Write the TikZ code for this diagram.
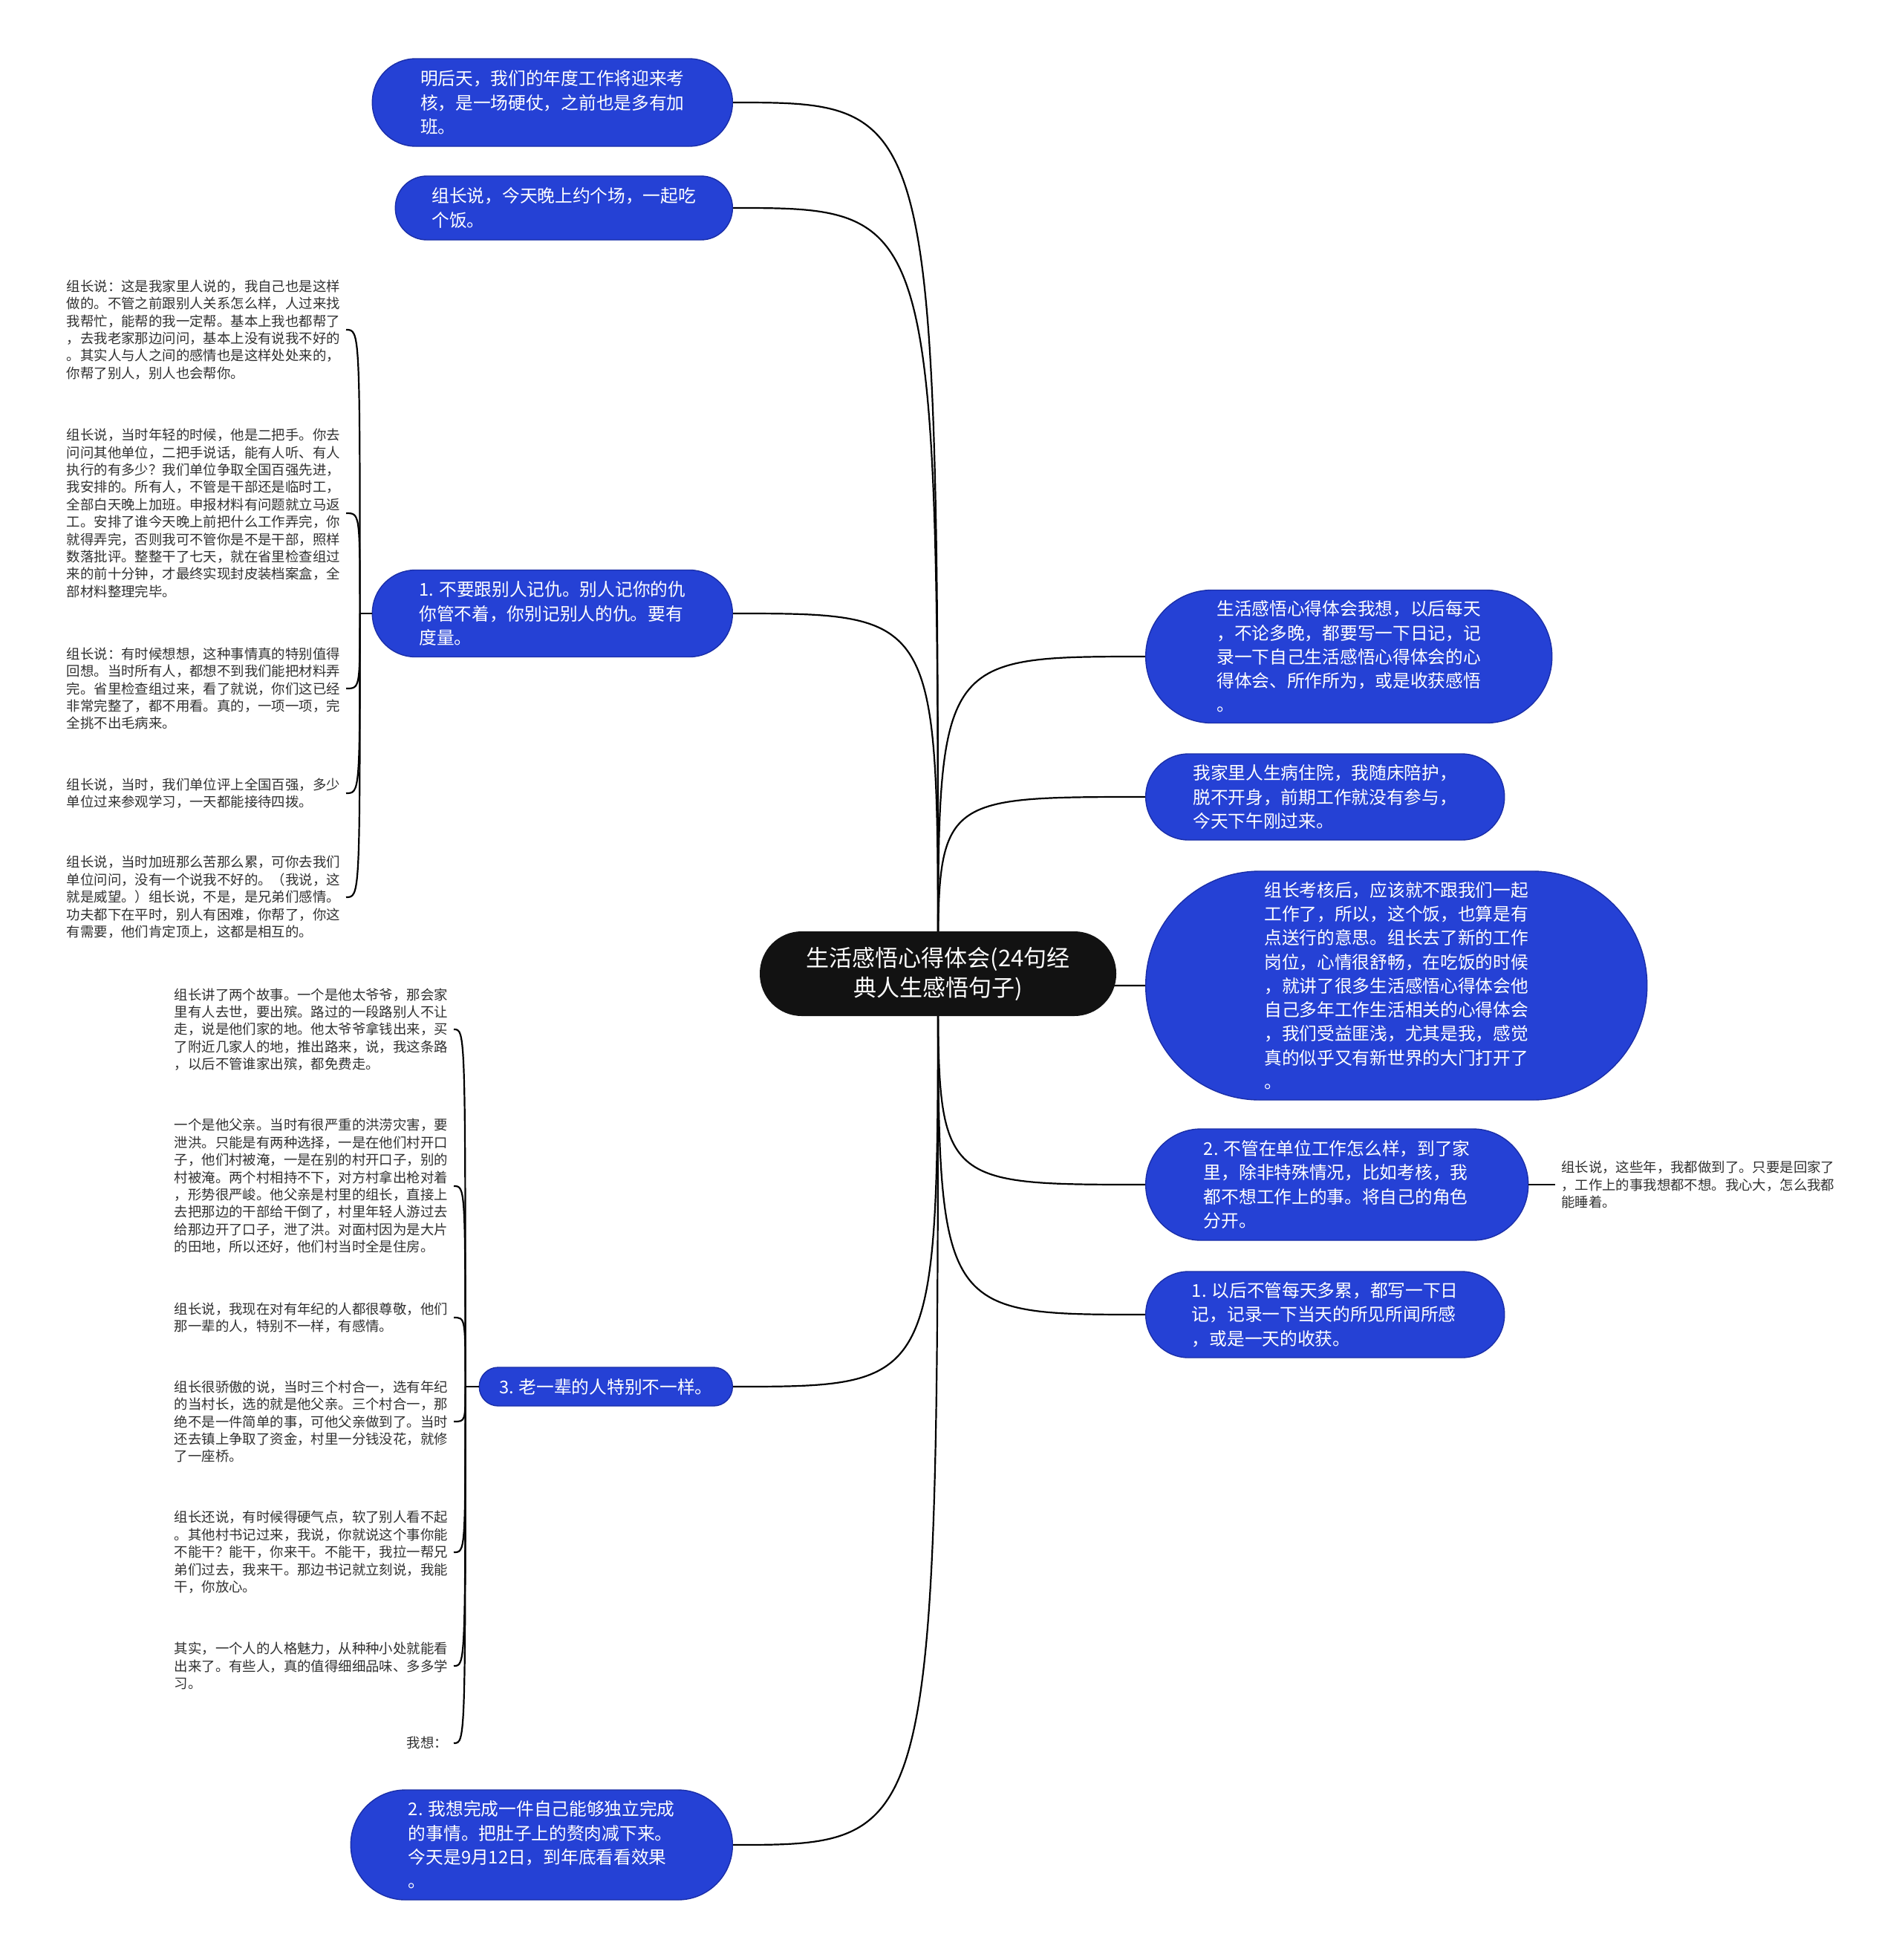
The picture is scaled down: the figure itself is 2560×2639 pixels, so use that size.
\documentclass[tikz,border=0pt]{standalone}
\usepackage{fontspec}
\setmainfont{Noto Sans CJK SC}
\usetikzlibrary{backgrounds}
\definecolor{nodeblue}{RGB}{37,65,213}
\definecolor{edgeblue}{RGB}{26,46,168}
\definecolor{leafgray}{RGB}{48,48,48}

\begin{document}
\begin{tikzpicture}[x=1pt,y=-1pt,
  link/.style={line width=2.2pt,black},
  topic/.style 2 args={draw=edgeblue,line width=1.4pt,fill=nodeblue,text=white,align=left,inner sep=0pt,
    font=\fontsize{23.7}{32.3}\selectfont,minimum width=#1,minimum height=#2,rounded corners=#2/2-0.5},
  leaf/.style={text=leafgray,align=left,inner xsep=8pt,inner ysep=2pt,font=\fontsize{18.4}{23.4}\selectfont}]
\useasboundingbox (0,0) rectangle (2560,2639);

\node[fill=black!93,text=white,align=center,inner sep=0pt,minimum width=480,minimum height=114,
  rounded corners=56.5,font=\fontsize{31}{40}\selectfont] (root) at (1263,1311)
  {生活感悟心得体会(24句经\\典人生感悟句子)};

\node[topic={485}{118},anchor=east] (a1) at (987,138) {明后天，我们的年度工作将迎来考\\核，是一场硬仗，之前也是多有加\\班。};
\node[topic={454}{86},anchor=east] (a2) at (987,280) {组长说，今天晚上约个场，一起吃\\个饭。};
\node[topic={485}{117},anchor=east] (a3) at (987,826) {1. 不要跟别人记仇。别人记你的仇\\你管不着，你别记别人的仇。要有\\度量。};
\node[topic={341}{52},anchor=east] (a4) at (987,1867) {3. 老一辈的人特别不一样。};
\node[topic={514}{148},anchor=east] (a5) at (987,2484) {2. 我想完成一件自己能够独立完成\\的事情。把肚子上的赘肉减下来。\\今天是9月12日，到年底看看效果\\。};

\node[topic={547}{179},anchor=west] (b1) at (1542,884) {生活感悟心得体会我想，以后每天\\，不论多晚，都要写一下日记，记\\录一下自己生活感悟心得体会的心\\得体会、所作所为，或是收获感悟\\。};
\node[topic={483}{116},anchor=west] (b2) at (1542,1073) {我家里人生病住院，我随床陪护，\\脱不开身，前期工作就没有参与，\\今天下午刚过来。};
\node[topic={675}{308},anchor=west] (b3) at (1542,1327) {组长考核后，应该就不跟我们一起\\工作了，所以，这个饭，也算是有\\点送行的意思。组长去了新的工作\\岗位，心情很舒畅，在吃饭的时候\\，就讲了很多生活感悟心得体会他\\自己多年工作生活相关的心得体会\\，我们受益匪浅，尤其是我，感觉\\真的似乎又有新世界的大门打开了\\。};
\node[topic={515}{150},anchor=west] (b4) at (1542,1595) {2. 不管在单位工作怎么样，到了家\\里，除非特殊情况，比如考核，我\\都不想工作上的事。将自己的角色\\分开。};
\node[topic={483}{116},anchor=west] (b5) at (1542,1770) {1. 以后不管每天多累，都写一下日\\记，记录一下当天的所见所闻所感\\，或是一天的收获。};

\node[leaf,anchor=east] (l1) at (466,444) {组长说：这是我家里人说的，我自己也是这样\\做的。不管之前跟别人关系怎么样，人过来找\\我帮忙，能帮的我一定帮。基本上我也都帮了\\，去我老家那边问问，基本上没有说我不好的\\。其实人与人之间的感情也是这样处处来的，\\你帮了别人，别人也会帮你。};
\node[leaf,anchor=east] (l2) at (466,691) {组长说，当时年轻的时候，他是二把手。你去\\问问其他单位，二把手说话，能有人听、有人\\执行的有多少？我们单位争取全国百强先进，\\我安排的。所有人，不管是干部还是临时工，\\全部白天晚上加班。申报材料有问题就立马返\\工。安排了谁今天晚上前把什么工作弄完，你\\就得弄完，否则我可不管你是不是干部，照样\\数落批评。整整干了七天，就在省里检查组过\\来的前十分钟，才最终实现封皮装档案盒，全\\部材料整理完毕。};
\node[leaf,anchor=east] (l3) at (466,927) {组长说：有时候想想，这种事情真的特别值得\\回想。当时所有人，都想不到我们能把材料弄\\完。省里检查组过来，看了就说，你们这已经\\非常完整了，都不用看。真的，一项一项，完\\全挑不出毛病来。};
\node[leaf,anchor=east] (l4) at (466,1068) {组长说，当时，我们单位评上全国百强，多少\\单位过来参观学习，一天都能接待四拨。};
\node[leaf,anchor=east] (l5) at (466,1208) {组长说，当时加班那么苦那么累，可你去我们\\单位问问，没有一个说我不好的。（我说，这\\就是威望。）组长说，不是，是兄弟们感情。\\功夫都下在平时，别人有困难，你帮了，你这\\有需要，他们肯定顶上，这都是相互的。};

\node[leaf,anchor=east] (m1) at (611,1386) {组长讲了两个故事。一个是他太爷爷，那会家\\里有人去世，要出殡。路过的一段路别人不让\\走，说是他们家的地。他太爷爷拿钱出来，买\\了附近几家人的地，推出路来，说，我这条路\\，以后不管谁家出殡，都免费走。};
\node[leaf,anchor=east] (m2) at (611,1597) {一个是他父亲。当时有很严重的洪涝灾害，要\\泄洪。只能是有两种选择，一是在他们村开口\\子，他们村被淹，一是在别的村开口子，别的\\村被淹。两个村相持不下，对方村拿出枪对着\\，形势很严峻。他父亲是村里的组长，直接上\\去把那边的干部给干倒了，村里年轻人游过去\\给那边开了口子，泄了洪。对面村因为是大片\\的田地，所以还好，他们村当时全是住房。};
\node[leaf,anchor=east] (m3) at (611,1774) {组长说，我现在对有年纪的人都很尊敬，他们\\那一辈的人，特别不一样，有感情。};
\node[leaf,anchor=east] (m4) at (611,1914) {组长很骄傲的说，当时三个村合一，选有年纪\\的当村长，选的就是他父亲。三个村合一，那\\绝不是一件简单的事，可他父亲做到了。当时\\还去镇上争取了资金，村里一分钱没花，就修\\了一座桥。};
\node[leaf,anchor=east] (m5) at (611,2090) {组长还说，有时候得硬气点，软了别人看不起\\。其他村书记过来，我说，你就说这个事你能\\不能干？能干，你来干。不能干，我拉一帮兄\\弟们过去，我来干。那边书记就立刻说，我能\\干，你放心。};
\node[leaf,anchor=east] (m6) at (611,2243) {其实，一个人的人格魅力，从种种小处就能看\\出来了。有些人，真的值得细细品味、多多学\\习。};
\node[leaf,anchor=east] (m7) at (611,2347) {我想：};

\node[leaf,anchor=west] (r1) at (2094,1595) {组长说，这些年，我都做到了。只要是回家了\\，工作上的事我想都不想。我心大，怎么我都\\能睡着。};

\begin{scope}[on background layer]
\foreach \n in {a1,a2,a3,a4,a5}
  \draw[link] (root.center) .. controls (root.center |- \n.east) .. (\n.east);
\foreach \n in {b1,b2,b3,b4,b5}
  \draw[link] (root.center) .. controls (root.center |- \n.west) .. (\n.west);
\end{scope}

\draw[link] (a3.west) -- ++(-16,0) coordinate (a3t);
\foreach \n in {l1,l2,l3,l4,l5}
  \draw[link] (a3t) .. controls (a3t |- \n.east) .. (\n.east);

\draw[link] (a4.west) -- ++(-18,0) coordinate (a4t);
\foreach \n in {m1,m2,m3,m4,m5,m6,m7}
  \draw[link] (a4t) .. controls (a4t |- \n.east) .. (\n.east);

\draw[link] (b4.east) -- (r1.west);

\end{tikzpicture}
\end{document}
